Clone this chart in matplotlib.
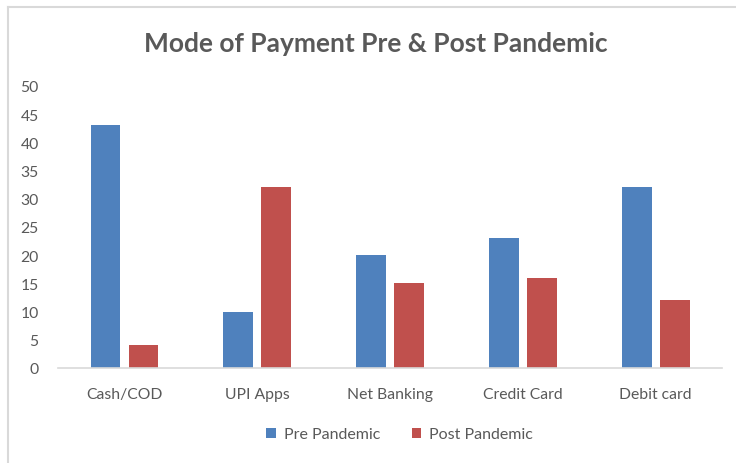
from matplotlib import pyplot as plt
from matplotlib.lines import Line2D
import numpy as np

plt.rcParams["font.family"] = ["Lato", "DejaVu Sans"]

categories = ["Cash/COD", "UPI Apps", "Net Banking", "Credit Card", "Debit card"]
pre_pandemic = [43, 10, 20, 23, 32]
post_pandemic = [4, 32, 15, 16, 12]
yticks = [0, 5, 10, 15, 20, 25, 30, 35, 40, 45, 50]

blue = "#4F81BD"
red = "#C0504D"
text_color = "#595959"

fig = plt.figure(figsize=(7.36, 4.64), dpi=100)
ax = fig.add_axes([0.079, 0.205, 0.902, 0.6075])

x = np.arange(len(categories))
width = 0.225
off = 0.143
ax.bar(x - off, pre_pandemic, width, color=blue, label="Pre Pandemic")
ax.bar(x + off, post_pandemic, width, color=red, label="Post Pandemic")

ax.set_xlim(-0.5, len(categories) - 0.5)
ax.set_ylim(0, 50)
ax.set_yticks(yticks)
ax.set_xticks(x)
ax.set_xticklabels(categories)

for s in ("top", "right", "left"):
    ax.spines[s].set_visible(False)
ax.spines["bottom"].set_color("#d9d9d9")
ax.spines["bottom"].set_linewidth(1.2)
ax.tick_params(axis="both", length=0, colors=text_color, labelsize=11.3)
ax.tick_params(axis="y", pad=14)
ax.tick_params(axis="x", pad=14)

fig.text(0.511, 0.905, "Mode of Payment Pre & Post Pandemic", ha="center",
         va="center", fontsize=19, fontweight="bold", color=text_color)

leg = fig.legend(loc="center", bbox_to_anchor=(0.543, 0.062), ncol=2,
                 frameon=False, fontsize=11.5, handlelength=0.6,
                 handleheight=0.6, handletextpad=0.5, columnspacing=2.0)
for t in leg.get_texts():
    t.set_color(text_color)

# chart frame
fig.add_artist(Line2D([0.0105, 0.0105], [0.0, 0.982], transform=fig.transFigure,
                      color="#d9d9d9", lw=1.5))
fig.add_artist(Line2D([0.0105, 1.0], [0.982, 0.982], transform=fig.transFigure,
                      color="#d9d9d9", lw=1.5))

fig.savefig("out.png", dpi=100)
